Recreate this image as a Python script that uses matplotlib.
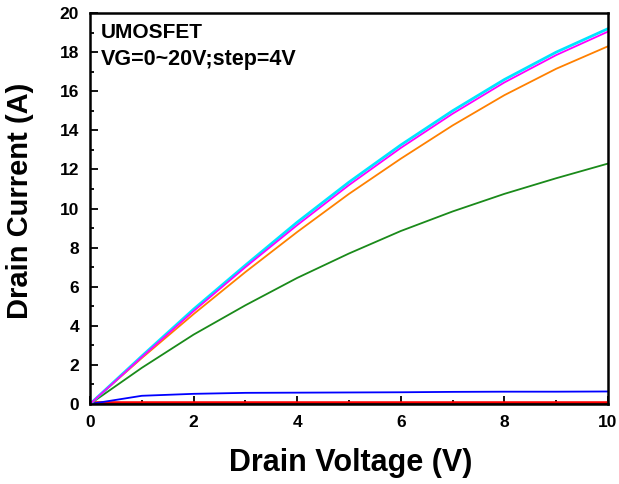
import numpy as np
import matplotlib
matplotlib.use("Agg")
import matplotlib.pyplot as plt
from matplotlib.ticker import MultipleLocator

plt.rcParams['font.family'] = ['Liberation Sans', 'DejaVu Sans']
plt.rcParams['font.weight'] = 'bold'

# drain voltage sweep (V)
vd = [0, 1, 2, 3, 4, 5, 6, 7, 8, 9, 10]

# drain current (A) for each gate voltage
id_vg0 = [0, 0, 0, 0, 0, 0, 0, 0, 0, 0, 0]
id_vg4 = [0, 0.42, 0.52, 0.57, 0.58, 0.59, 0.60, 0.62, 0.63, 0.63, 0.64]
id_vg8 = [0, 1.85, 3.55, 5.05, 6.45, 7.7, 8.85, 9.85, 10.75, 11.55, 12.3]
id_vg12 = [0, 2.35, 4.6, 6.75, 8.8, 10.75, 12.55, 14.25, 15.8, 17.15, 18.3]
id_vg16 = [0, 2.4, 4.75, 7.0, 9.15, 11.2, 13.1, 14.85, 16.45, 17.85, 19.05]
id_vg20 = [0, 2.45, 4.85, 7.1, 9.3, 11.35, 13.25, 15.0, 16.6, 18.0, 19.2]

fig = plt.figure(figsize=(6.19, 4.84), dpi=100)
ax = fig.add_axes([0.1454, 0.1653, 0.8368, 0.8077])

# VG = 0 V: red trace with a darker core along the axis
ax.plot(vd, id_vg0, color='red', lw=4.0)
ax.plot(vd, id_vg0, color='#8b0000', lw=2.0)
ax.plot(vd, id_vg4, color='#0000ff', lw=1.3)
ax.plot(vd, id_vg8, color='#1a8a1a', lw=1.3)
ax.plot(vd, id_vg12, color='#ff8000', lw=1.3)
ax.plot(vd, id_vg20, color='#00e5ff', lw=2.0)
ax.plot(vd, id_vg16, color='#ff00ff', lw=1.3)

ax.set_xlim(0, 10)
ax.set_ylim(0, 20)
ax.xaxis.set_major_locator(MultipleLocator(2))
ax.xaxis.set_minor_locator(MultipleLocator(1))
ax.yaxis.set_major_locator(MultipleLocator(2))
ax.yaxis.set_minor_locator(MultipleLocator(1))
ax.tick_params(which='both', direction='in', width=1.3, top=False, right=False,
               labelsize=12.5)
ax.tick_params(axis='x', pad=8)
ax.tick_params(axis='y', pad=8)
ax.tick_params(which='major', length=6)
ax.tick_params(which='minor', length=3)
for s in ax.spines.values():
    s.set_linewidth(1.8)

ax.set_xlabel('Drain Voltage (V)', fontsize=22, fontweight='bold', va='center')
ax.xaxis.set_label_coords(0.504, -0.151)
ax.set_ylabel('Drain Current (A)', fontsize=21, fontweight='bold', va='center')
ax.yaxis.set_label_coords(-0.135, 0.52)

ax.text(0.02, 0.95, 'UMOSFET', transform=ax.transAxes, fontsize=15,
        fontweight='bold', va='center')
ax.text(0.02, 0.882, 'VG=0~20V;step=4V', transform=ax.transAxes, fontsize=15.5,
        fontweight='bold', va='center')

fig.savefig('out.png', dpi=100)
